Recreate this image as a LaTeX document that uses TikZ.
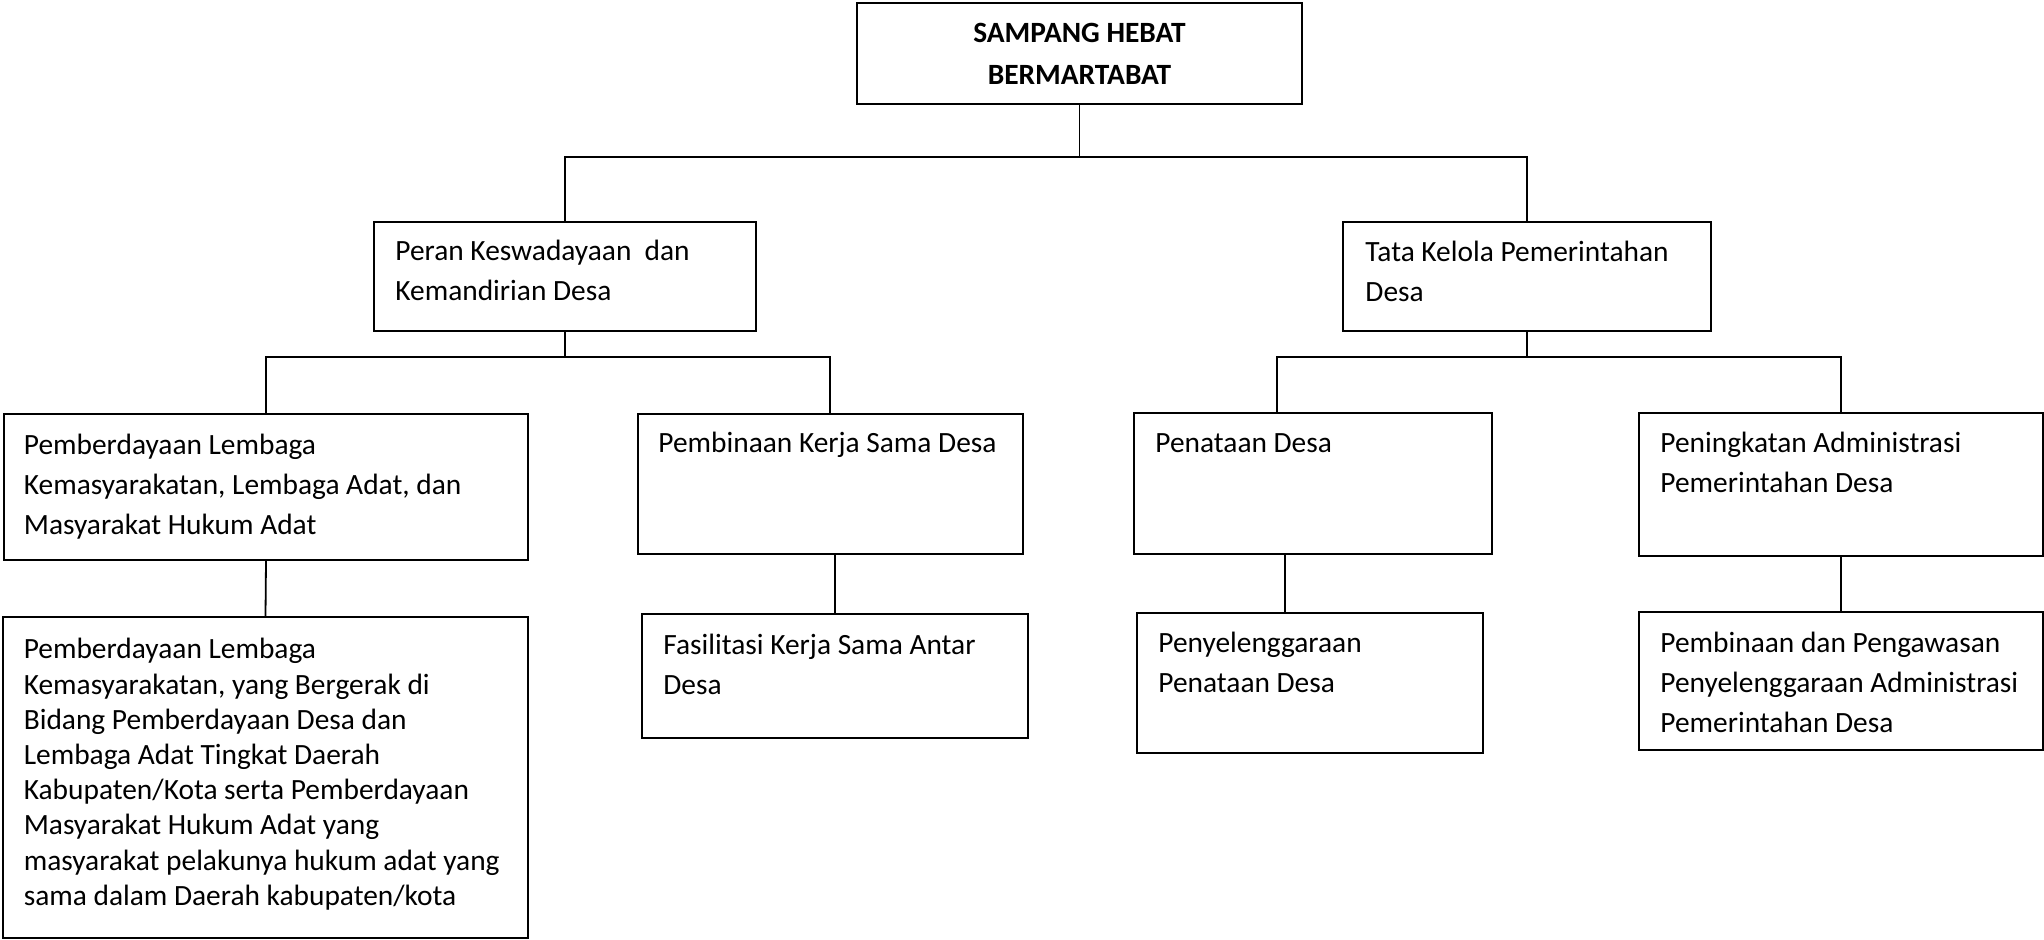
\documentclass[tikz,border=0pt]{standalone}
\usepackage{fontspec}
\setmainfont{Carlito}
\newcommand{\fst}{\rule{0pt}{11pt}}
\begin{document}
\begin{tikzpicture}[x=0.5pt,y=-0.5pt,
  box/.style={draw, line width=1pt, inner sep=0pt},
  txt/.style={anchor=north west, inner sep=0pt, align=left, font=\fontsize{14.7}{20}\selectfont},
  conn/.style={line width=0.9pt}]
\useasboundingbox (0,0) rectangle (2044,940);
% boxes
\node[box, minimum width=222.5pt, minimum height=50.5pt] (top) at (1079.5,53.5) {};
\node[box, minimum width=191pt, minimum height=54.5pt] (peran) at (565,276.5) {};
\node[box, minimum width=184pt, minimum height=54.5pt] (tata) at (1527,276.5) {};
\node[box, minimum width=262pt, minimum height=73pt] (lem) at (266,487) {};
\node[box, minimum width=192.75pt, minimum height=70pt] (pkd) at (830.25,484) {};
\node[box, minimum width=179pt, minimum height=70.5pt] (ptd) at (1313,483.5) {};
\node[box, minimum width=202pt, minimum height=71.5pt] (pad) at (1841,484.5) {};
\node[box, minimum width=262.5pt, minimum height=160.5pt] (big) at (265.5,777.5) {};
\node[box, minimum width=193pt, minimum height=62pt] (fas) at (835,676) {};
\node[box, minimum width=173pt, minimum height=70pt] (pny) at (1310,683) {};
\node[box, minimum width=202pt, minimum height=69pt] (ppa) at (1841,681) {};
% texts
\node[txt, anchor=north, align=center, font=\fontsize{14.7}{21}\selectfont\bfseries] (ttop) at (1079.5,20.4) {\fst SAMPANG HEBAT\\BERMARTABAT};
\node[txt] (tperan) at (395,238.4) {\fst Peran Keswadayaan\ \ dan\\Kemandirian Desa};
\node[txt] (ttata) at (1365,239.1) {\fst Tata Kelola Pemerintahan\\Desa};
\node[txt] (tlem) at (23.5,432.4) {\fst Pemberdayaan Lembaga\\Kemasyarakatan, Lembaga Adat, dan\\Masyarakat Hukum Adat};
\node[txt] (tpkd) at (658,430.4) {\fst Pembinaan Kerja Sama Desa};
\node[txt] (tptd) at (1155,430.4) {\fst Penataan Desa};
\node[txt] (tpad) at (1660,430.4) {\fst Peningkatan Administrasi\\Pemerintahan Desa};
\node[txt, font=\fontsize{14.7}{17.6}\selectfont] (tbig) at (23.4,636.4) {\fst Pemberdayaan Lembaga\\Kemasyarakatan, yang Bergerak di\\Bidang Pemberdayaan Desa dan\\Lembaga Adat Tingkat Daerah\\Kabupaten/Kota serta Pemberdayaan\\Masyarakat Hukum Adat yang\\masyarakat pelakunya hukum adat yang\\sama dalam Daerah kabupaten/kota};
\node[txt] (tfas) at (663,632.4) {\fst Fasilitasi Kerja Sama Antar\\Desa};
\node[txt] (tpny) at (1158,630.4) {\fst Penyelenggaraan\\Penataan Desa};
\node[txt] (tppa) at (1660,630.4) {\fst Pembinaan dan Pengawasan\\Penyelenggaraan Administrasi\\Pemerintahan Desa};
% junction coordinates
\coordinate (j1) at (1079.5,157);
\coordinate (j2) at (0,357);
\coordinate (c1) at (1277,0);
\coordinate (c2) at (1285,0);
% connectors
\draw[conn] (top.south) -- (j1);
\draw[conn] (peran.north) |- (tata.north |- j1) -- (tata.north);
\draw[conn] (peran.south) -- (peran.south |- j2);
\draw[conn] (lem.north) |- (pkd.north |- j2) -- (pkd.north);
\draw[conn] (tata.south) -- (tata.south |- j2);
\draw[conn] (ptd.north -| c1) |- (pad.north |- j2) -- (pad.north);
\draw[conn] (lem.south) -- (big.north);
\draw[conn] (fas.north) -- (fas.north |- pkd.south);
\draw[conn] (ptd.south -| c2) -- (pny.north -| c2);
\draw[conn] (pad.south) -- (ppa.north);
\end{tikzpicture}
\end{document}
